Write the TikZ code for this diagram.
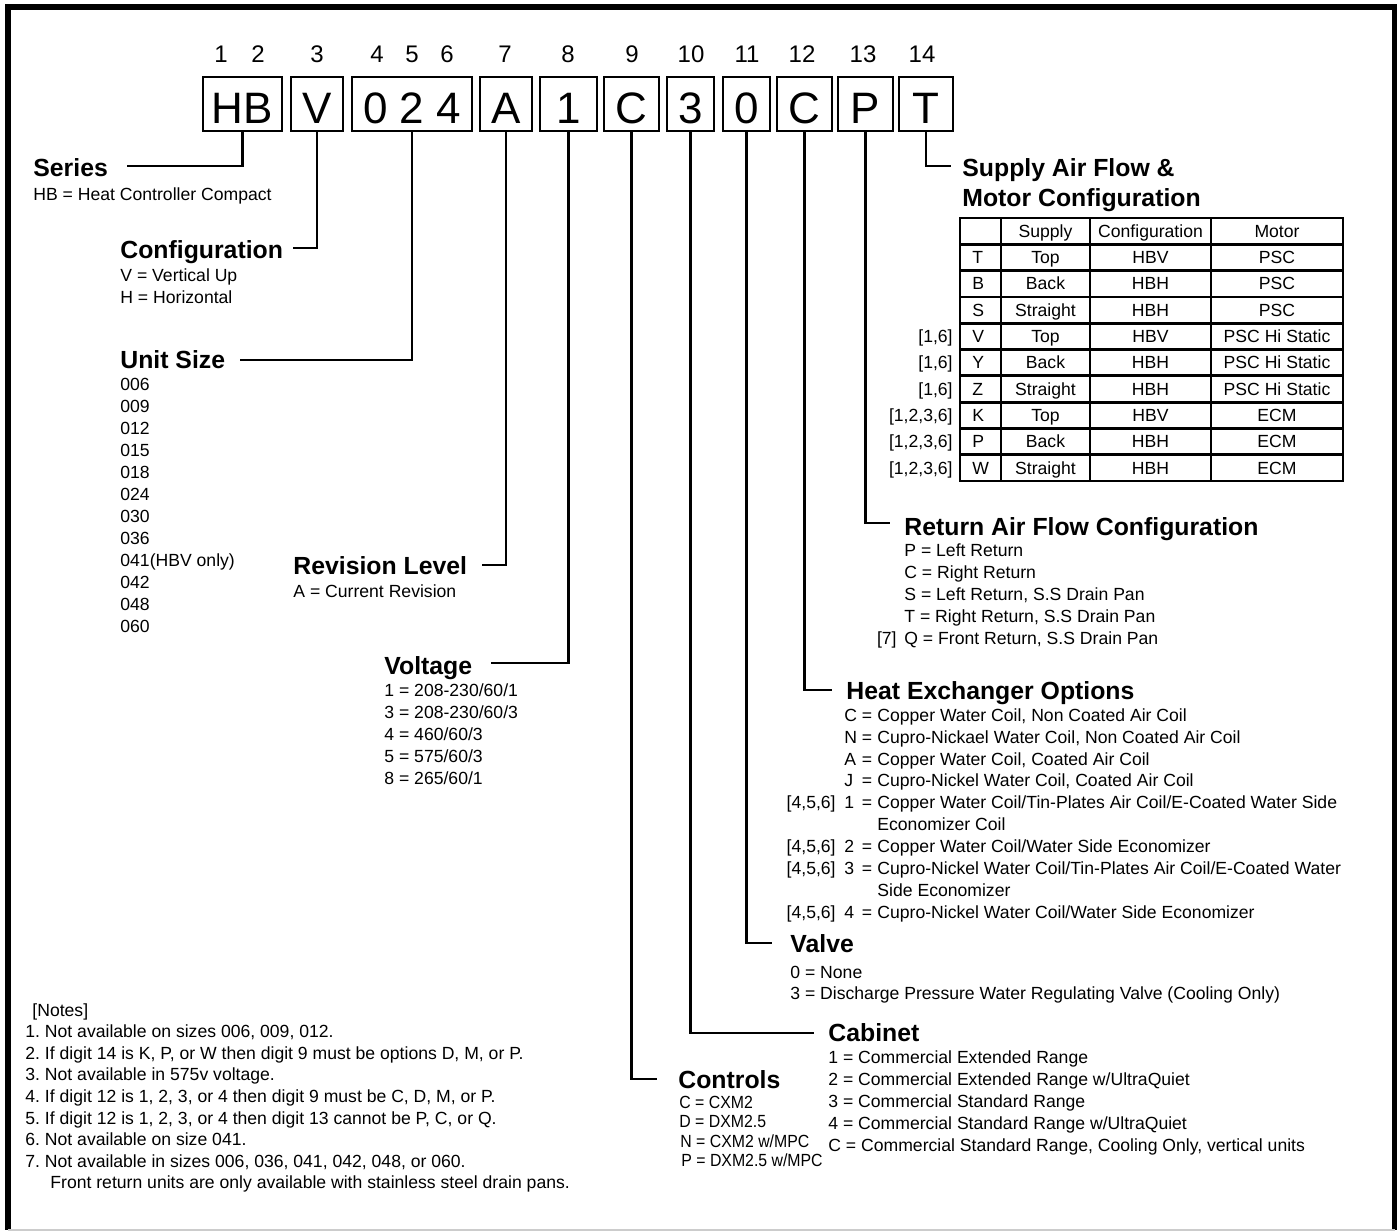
\documentclass[tikz,border=0pt]{standalone}
\usepackage{fontspec}
\setmainfont{Liberation Sans}
\usepackage{graphicx}
\newcommand\dgBody{\fontsize{8.8}{10}\selectfont}
\newcommand\dgHead{\fontsize{12.4}{14}\selectfont\bfseries}
\frenchspacing
\begin{document}
\begin{tikzpicture}[x=0.5pt,y=-0.5pt,
  body/.style={anchor=base west,inner sep=0pt,font=\dgBody},
  bodyr/.style={anchor=base east,inner sep=0pt,font=\dgBody},
  bodyc/.style={anchor=base,inner sep=0pt,font=\dgBody},
  head/.style={anchor=base west,inner sep=0pt,font=\dgHead},
  dig/.style={anchor=base,inner sep=0pt,font=\fontsize{12}{14}\selectfont},
  cbox/.style={draw,line width=1.35pt,inner sep=0pt,minimum height=27pt,
    text height=19pt,text depth=0pt,font=\fontsize{22}{24}\selectfont},
  lead/.style={line width=1.3pt,line join=miter},
  tab/.style={line width=1.4pt}]
\useasboundingbox (0,0) rectangle (1400,1231);
% frame
\draw[line width=2.9pt,line join=miter] (8,1229.5) -- (8,6.7) -- (1394.5,6.7) -- (1394.5,1229.5);
\draw[black!20,line width=0.6pt] (8,1230) -- (1394.5,1230);
% digit labels
\foreach \t/\x [count=\i] in {1/221,2/258,3/317,4/377,5/412,6/447,7/505,8/568,9/632,10/691,11/747,12/802,13/863,14/922}
  \node[dig] (d\i) at (\x,62.5) {\t};
% code boxes
\node[cbox,minimum width=39.5pt] (bHB) at (242.5,104) {HB};
\node[cbox,minimum width=26pt] (bV) at (317,104) {V};
\node[cbox,minimum width=60pt] (bSize) at (412,104) {0 2 4};
\node[cbox,minimum width=26pt] (bA) at (506,104) {A};
\node[cbox,minimum width=28.5pt] (bOne) at (568.5,104) {1};
\node[cbox,minimum width=27.5pt] (bCtl) at (631.5,104) {C};
\node[cbox,minimum width=23.5pt] (bCab) at (690.5,104) {3};
\node[cbox,minimum width=23.5pt] (bVal) at (746.5,104) {0};
\node[cbox,minimum width=27.5pt] (bHx) at (804.5,104) {C};
\node[cbox,minimum width=27.5pt] (bRet) at (865.5,104) {P};
\node[cbox,minimum width=27pt] (bSup) at (926,104) {T};
% Series
\node[head] (hSeries) at (33,176) {Series};
\node[body] (tSeries) at (33,200) {HB = Heat Controller Compact};
\coordinate (eSeries) at (127,166);
\draw[lead] (bHB.south) |- (eSeries);
% Configuration
\node[head] (hConf) at (120,258) {Configuration};
\node[body] (tConf1) at (120,281) {V = Vertical Up};
\node[body] (tConf2) at (120,303) {H = Horizontal};
\coordinate (eConf) at (293,248);
\draw[lead] (bV.south) |- (eConf);
% Unit size
\node[head] (hSize) at (120,368) {Unit Size};
\foreach \t [count=\i from 0] in {006,009,012,015,018,024,030,036,041(HBV only),042,048,060}
  \node[body] (us\i) at (120,390+22*\i) {\t};
\coordinate (eSize) at (240,360);
\draw[lead] (bSize.south) |- (eSize);
% Revision
\node[head] (hRev) at (293,574) {Revision Level};
\node[body] (tRev) at (293,597) {A = Current Revision};
\coordinate (eRev) at (482,565);
\draw[lead] (bA.south) |- (eRev);
% Voltage
\node[head] (hVolt) at (384,674) {Voltage};
\foreach \t [count=\i from 0] in {1 = 208-230/60/1,3 = 208-230/60/3,4 = 460/60/3,5 = 575/60/3,8 = 265/60/1}
  \node[body] (vo\i) at (384,696+22*\i) {\t};
\coordinate (eVolt) at (491,663);
\draw[lead] (bOne.south) |- (eVolt);
% Supply air flow
\node[head] (hSup1) at (962,176) {Supply Air Flow \&};
\node[head] (hSup2) at (962,206) {Motor Configuration};
\coordinate (eSup) at (951,166);
\draw[lead] (bSup.south) |- (eSup);
% table
\draw[tab] (960,218) rectangle (1343,481);
\foreach \x in {1001,1090,1211} \draw[tab] (\x,218) -- (\x,481);
\foreach \k in {1,...,9} \draw[tab] (960,218+26.3*\k) -- (1343,218+26.3*\k);
\node[bodyc] (th1) at (1045.5,237.35) {Supply};
\node[bodyc] (th2) at (1150.5,237.35) {Configuration};
\node[bodyc] (th3) at (1277,237.35) {Motor};
\foreach \a/\b/\c/\d [count=\k] in {T/Top/HBV/PSC,B/Back/HBH/PSC,S/Straight/HBH/PSC,V/Top/HBV/PSC Hi Static,Y/Back/HBH/PSC Hi Static,Z/Straight/HBH/PSC Hi Static,K/Top/HBV/ECM,P/Back/HBH/ECM,W/Straight/HBH/ECM}{
  \node[body] (ta\k) at (972,237.35+26.3*\k) {\a};
  \node[bodyc] (tb\k) at (1045.5,237.35+26.3*\k) {\b};
  \node[bodyc] (tc\k) at (1150.5,237.35+26.3*\k) {\c};
  \node[bodyc] (td\k) at (1277,237.35+26.3*\k) {\d};
}
\foreach \k in {4,5,6} \node[bodyr] (tn\k) at (953,237.35+26.3*\k) {[1,6]};
\foreach \k in {7,8,9} \node[bodyr] (tn\k) at (953,237.35+26.3*\k) {[1,2,3,6]};
% Return air flow
\node[head] (hRet) at (904,535) {Return Air Flow Configuration};
\foreach \t [count=\i from 0] in {P = Left Return,C = Right Return,{S = Left Return, S.S Drain Pan},{T = Right Return, S.S Drain Pan},{Q = Front Return, S.S Drain Pan}}
  \node[body] (re\i) at (904,556+22*\i) {\t};
\node[bodyr] (reN) at (897,644) {[7]};
\coordinate (eRet) at (890,523);
\draw[lead] (bRet.south) |- (eRet);
% Heat exchanger
\node[head] (hHx) at (846,699) {Heat Exchanger Options};
\foreach \l/\t [count=\i from 0] in {C/{Copper Water Coil, Non Coated Air Coil},N/{Cupro-Nickael Water Coil, Non Coated Air Coil},A/{Copper Water Coil, Coated Air Coil},J/{Cupro-Nickel Water Coil, Coated Air Coil},1/{Copper Water Coil/Tin-Plates Air Coil/E-Coated Water Side},{}/{Economizer Coil},2/{Copper Water Coil/Water Side Economizer},3/{Cupro-Nickel Water Coil/Tin-Plates Air Coil/E-Coated Water},{}/{Side Economizer},4/{Cupro-Nickel Water Coil/Water Side Economizer}}{
  \node[body] (hxt\i) at (877,721.2+21.9*\i) {\t};
}
\foreach \l/\i in {C/0,N/1,A/2,J/3,1/4,2/6,3/7,4/9}{
  \node[body] (hxl\i) at (844,721.2+21.9*\i) {\l};
  \node[body] (hxe\i) at (861.5,721.2+21.9*\i) {=};
}
\foreach \i in {4,6,7,9} \node[bodyr] (hxn\i) at (836,721.2+21.9*\i) {[4,5,6]};
\coordinate (eHx) at (832,690);
\draw[lead] (bHx.south) |- (eHx);
% Valve
\node[head] (hVal) at (790,952) {Valve};
\node[body] (va0) at (790,978) {0 = None};
\node[body] (va1) at (790,999) {3 = Discharge Pressure Water Regulating Valve (Cooling Only)};
\coordinate (eVal) at (772,943);
\draw[lead] (bVal.south) |- (eVal);
% Cabinet
\node[head] (hCab) at (828,1041) {Cabinet};
\foreach \t [count=\i from 0] in {1 = Commercial Extended Range,2 = Commercial Extended Range w/UltraQuiet,3 = Commercial Standard Range,4 = Commercial Standard Range w/UltraQuiet,{C = Commercial Standard Range, Cooling Only, vertical units}}
  \node[body] (ca\i) at (828,1063+22*\i) {\t};
\coordinate (eCab) at (814,1033);
\draw[lead] (bCab.south) |- (eCab);
% Controls
\node[head] (hCtl) at (678,1088) {Controls};
\node[body] (ct0) at (679,1108) {\scalebox{0.9}[1]{C = CXM2}};
\node[body] (ct1) at (679,1127.5) {\scalebox{0.9}[1]{D = DXM2.5}};
\node[body] (ct2) at (680,1147) {\scalebox{0.9}[1]{N = CXM2 w/MPC}};
\node[body] (ct3) at (681,1166.5) {\scalebox{0.9}[1]{P = DXM2.5 w/MPC}};
\coordinate (eCtl) at (657,1079);
\draw[lead] (bCtl.south) |- (eCtl);
% Notes
\node[body] (nH) at (32,1016) {[Notes]};
\foreach \t [count=\i] in {{1. Not available on sizes 006, 009, 012.},{2. If digit 14 is K, P, or W then digit 9 must be options D, M, or P.},3. Not available in 575v voltage.,{4. If digit 12 is 1, 2, 3, or 4 then digit 9 must be C, D, M, or P.},{5. If digit 12 is 1, 2, 3, or 4 then digit 13 cannot be P, C, or Q.},6. Not available on size 041.,{7. Not available in sizes 006, 036, 041, 042, 048, or 060.}}
  \node[body] (n\i) at (25,1016+21.6*\i) {\t};
\node[body] (n8) at (50,1188.8) {Front return units are only available with stainless steel drain pans.};
\end{tikzpicture}
\end{document}
